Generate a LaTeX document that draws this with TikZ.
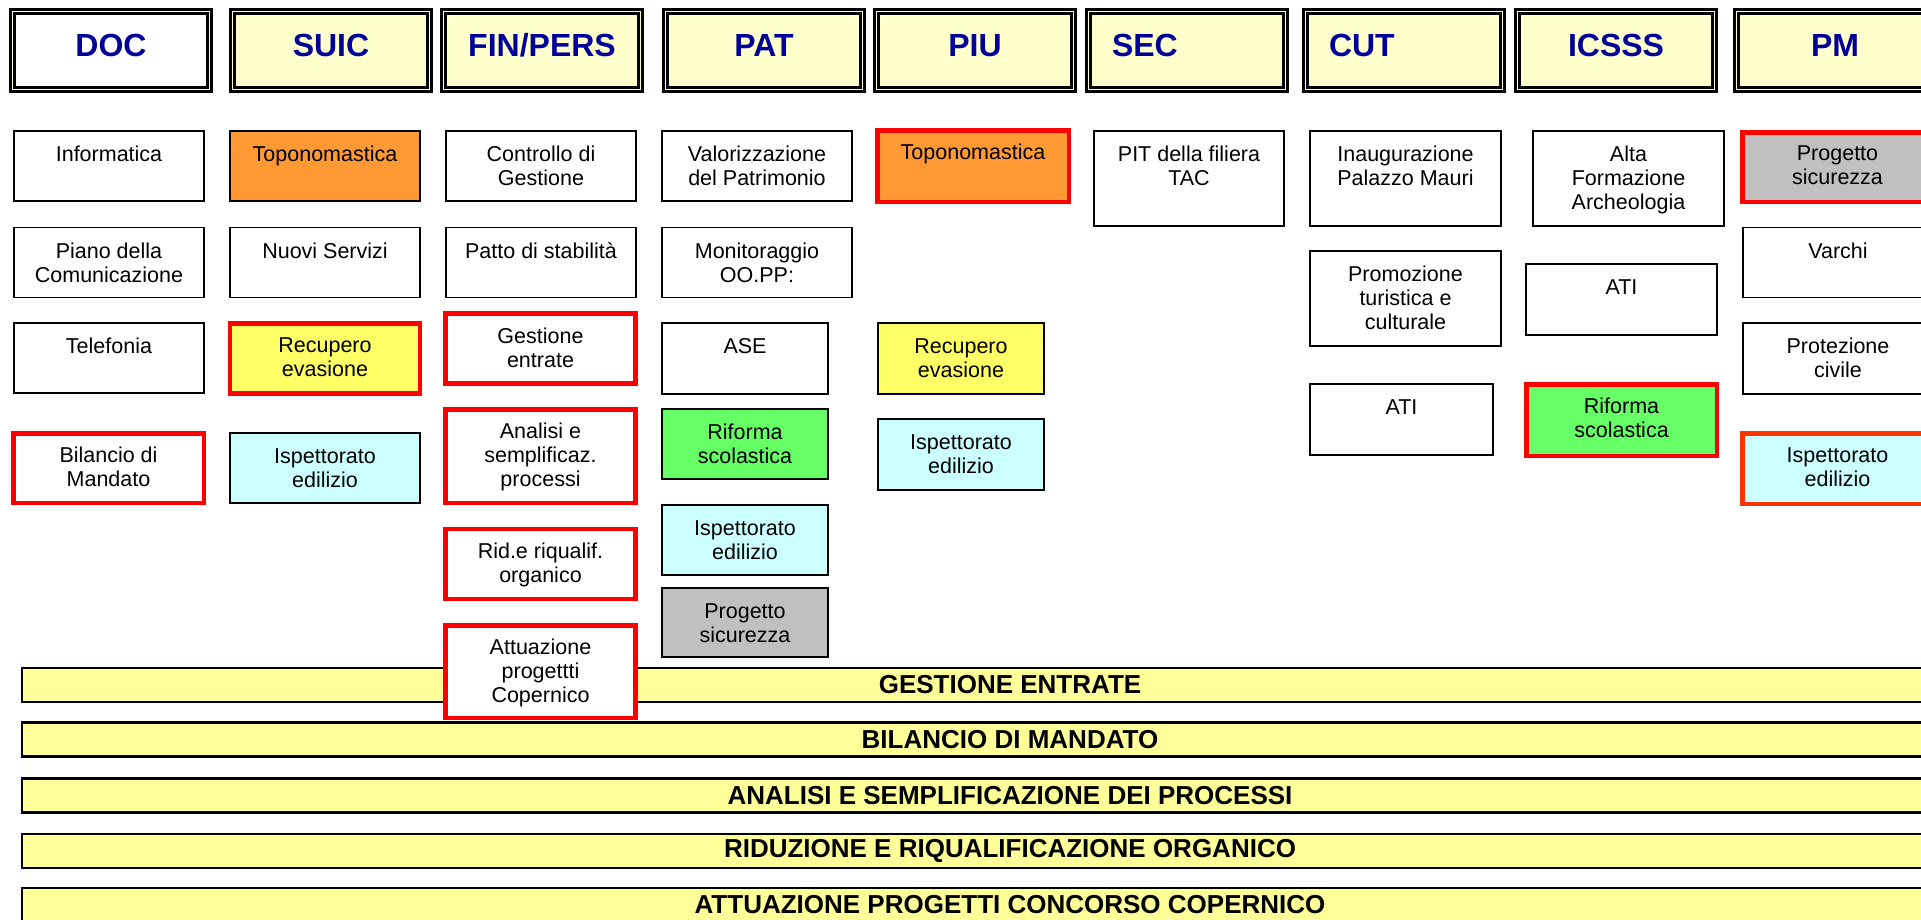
\documentclass[tikz,border=0pt]{standalone}
\usepackage{fontspec}
\setmainfont{Liberation Sans}
\definecolor{hdrfill}{HTML}{FFFFCC}
\definecolor{hdrblue}{HTML}{000099}
\definecolor{barfill}{HTML}{FFFF99}
\definecolor{topofill}{HTML}{FF9933}
\definecolor{recfill}{HTML}{FFFF66}
\definecolor{ispfill}{HTML}{CCFFFF}
\definecolor{riffill}{HTML}{66FF66}
\definecolor{sicfill}{HTML}{C0C0C0}
\definecolor{redorange}{HTML}{FF3300}

\begin{document}
\begin{tikzpicture}[x=1pt, y=-1pt,
	hdr/.style={draw, line width=3pt, double=hdrfill, double distance=1.5pt, fill=hdrfill,
		minimum width=197pt, minimum height=78pt, inner sep=0pt, text=hdrblue,
		font=\fontsize{32}{38}\selectfont\bfseries, text height=23pt, text depth=12pt},
	hdrleft/.style={hdr, text width=150pt, align=left},
	cell/.style={draw, line width=1.8pt, fill=white, inner sep=0pt,
		minimum width=190pt, minimum height=70pt},
	alert/.style={draw=red, line width=4.5pt},
	ctext/.style={anchor=north, inner sep=0pt, yshift=-16pt, align=center,
		font=\fontsize{21.5}{24}\selectfont},
	banner/.style={draw, line width=2.5pt, fill=barfill, inner sep=0pt,
		minimum width=1976pt, minimum height=34pt, font=\fontsize{26}{30}\selectfont\bfseries}]
	% 1. 背景与边界
	\fill[white] (0,0) rectangle (1921,919);
	\useasboundingbox (0,0) rectangle (1921,919);
	
	% 2. 标题行 (双线框)
	\node[hdr, fill=white] (doc) at (111,50.5) {DOC};
	\node[hdr] (suic) at (331,50.5) {SUIC};
	\node[hdr] (fin) at (542,50.5) {FIN/PERS};
	\node[hdr] (pat) at (764,50.5) {PAT};
	\node[hdr] (piu) at (975,50.5) {PIU};
	\node[hdrleft] (sec) at (1187,50.5) {SEC};
	\node[hdrleft] (cut) at (1404,50.5) {CUT};
	\node[hdr] (icsss) at (1616,50.5) {ICSSS};
	\node[hdr] (pm) at (1835,50.5) {PM};
	
	% 3. 底部横条
	\node[banner] (barA) at (1010,685) {GESTIONE ENTRATE};
	\node[banner] (barB) at (1010,739.5) {BILANCIO DI MANDATO};
	\node[banner] (barC) at (1010,795.5) {ANALISI E SEMPLIFICAZIONE DEI PROCESSI};
	\node[banner] (barD) at (1010,851) {RIDUZIONE E RIQUALIFICAZIONE ORGANICO};
	\node[banner] (barE) at (1010,905) {ATTUAZIONE PROGETTI CONCORSO COPERNICO};
	
	% 4. DOC
	\node[cell, label={[ctext]north:Informatica}] (docA) at (109,166) {};
	\node[cell, label={[ctext]north:{Piano della\\Comunicazione}}] (docB) at (109,262.5) {};
	\node[cell, label={[ctext]north:Telefonia}] (docC) at (109,358) {};
	\node[cell, alert, minimum width=190.5pt, minimum height=69.5pt, label={[ctext]north:{Bilancio di\\Mandato}}] (docD) at (108.5,468) {};
	
	% 5. SUIC
	\node[cell, fill=topofill, label={[ctext]north:Toponomastica}] (suicA) at (325,166) {};
	\node[cell, label={[ctext]north:Nuovi Servizi}] (suicB) at (325,262.5) {};
	\node[cell, alert, fill=recfill, label={[ctext]north:{Recupero\\evasione}}] (suicC) at (325,358.5) {};
	\node[cell, fill=ispfill, label={[ctext]north:{Ispettorato\\edilizio}}] (suicD) at (325,468) {};
	
	% 6. FIN/PERS
	\node[cell, label={[ctext]north:{Controllo di\\Gestione}}] (finA) at (541,166) {};
	\node[cell, label={[ctext]north:{Patto di stabilità}}] (finB) at (541,262.5) {};
	\node[cell, alert, label={[ctext]north:{Gestione\\entrate}}] (finC) at (540.5,348.5) {};
	\node[cell, alert, minimum height=93.5pt, label={[ctext]north:{Analisi e\\semplificaz.\\processi}}] (finD) at (540.5,456) {};
	\node[cell, alert, label={[ctext]north:{Rid.e riqualif.\\organico}}] (finE) at (540.5,564) {};
	\node[cell, alert, minimum height=92.5pt, label={[ctext]north:{Attuazione\\progettti\\Copernico}}] (finF) at (540.5,671.5) {};
	
	% 7. PAT
	\node[cell, label={[ctext]north:{Valorizzazione\\del Patrimonio}}] (patA) at (757,166) {};
	\node[cell, label={[ctext]north:{Monitoraggio\\OO.PP:}}] (patB) at (757,262.5) {};
	\node[cell, minimum width=166pt, minimum height=71pt, label={[ctext]north:ASE}] (patC) at (745,358.5) {};
	\node[cell, fill=riffill, minimum width=166pt, label={[ctext]north:{Riforma\\scolastica}}] (patD) at (745,444) {};
	\node[cell, fill=ispfill, minimum width=166pt, label={[ctext]north:{Ispettorato\\edilizio}}] (patE) at (745,540) {};
	\node[cell, fill=sicfill, minimum width=166pt, minimum height=69pt, label={[ctext]north:{Progetto\\sicurezza}}] (patF) at (745,622.5) {};
	
	% 8. PIU
	\node[cell, alert, fill=topofill, minimum width=191.5pt, minimum height=71.5pt, label={[ctext]north:Toponomastica}] (piuA) at (973,166) {};
	\node[cell, fill=recfill, minimum width=166pt, minimum height=71pt, label={[ctext]north:{Recupero\\evasione}}] (piuB) at (961,358.5) {};
	\node[cell, fill=ispfill, minimum width=166pt, minimum height=71pt, label={[ctext]north:{Ispettorato\\edilizio}}] (piuC) at (961,454.5) {};
	
	% 9. SEC
	\node[cell, minimum height=95pt, label={[ctext]north:{PIT della filiera\\TAC}}] (secA) at (1189,178.5) {};
	
	% 10. CUT
	\node[cell, minimum width=191pt, minimum height=95pt, label={[ctext]north:{Inaugurazione\\Palazzo Mauri}}] (cutA) at (1405.5,178.5) {};
	\node[cell, minimum width=191pt, minimum height=95pt, label={[ctext]north:{Promozione\\turistica e\\culturale}}] (cutB) at (1405.5,298.5) {};
	\node[cell, minimum width=183pt, minimum height=71pt, label={[ctext]north:ATI}] (cutC) at (1401.5,419.5) {};
	
	% 11. ICSSS
	\node[cell, minimum width=191pt, minimum height=95pt, label={[ctext]north:{Alta\\Formazione\\Archeologia}}] (icsA) at (1628.5,178.5) {};
	\node[cell, minimum width=191pt, minimum height=71pt, label={[ctext]north:ATI}] (icsB) at (1621.5,299.5) {};
	\node[cell, alert, fill=riffill, minimum width=190.5pt, minimum height=71.5pt, label={[ctext]north:{Riforma\\scolastica}}] (icsC) at (1621.5,420) {};
	
	% 12. PM (右侧被裁切)
	\node[cell, alert, fill=sicfill, minimum width=190.5pt, minimum height=69.5pt, label={[ctext]north:{Progetto\\sicurezza}}] (pmA) at (1837.5,167) {};
	\node[cell, label={[ctext]north:Varchi}] (pmB) at (1838,262.5) {};
	\node[cell, minimum height=71pt, label={[ctext]north:{Protezione\\civile}}] (pmC) at (1838,358.5) {};
	\node[cell, alert, draw=redorange, fill=ispfill, minimum width=190.5pt, minimum height=70.5pt, label={[ctext]north:{Ispettorato\\edilizio}}] (pmD) at (1837.5,468.5) {};
\end{tikzpicture}
\end{document}
